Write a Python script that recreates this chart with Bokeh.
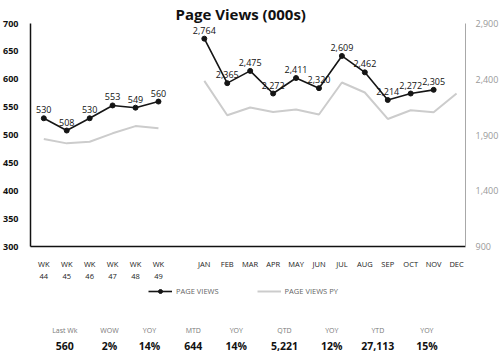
from bokeh.plotting import figure
from bokeh.layouts import column
from bokeh.models import (Range1d, LinearAxis, FixedTicker, NumeralTickFormatter,
                          Legend, LegendItem, ColumnDataSource)
from bokeh.core.properties import value
from bokeh.embed import file_html
from bokeh.resources import INLINE

# ---------------- data ----------------
weeks = ["WK\n44", "WK\n45", "WK\n46", "WK\n47", "WK\n48", "WK\n49"]
months = ["JAN", "FEB", "MAR", "APR", "MAY", "JUN", "JUL", "AUG", "SEP", "OCT", "NOV", "DEC"]
week_views = [530, 508, 530, 553, 549, 560]
week_views_py = [493, 485, 488, 503, 516, 512]
month_views = [2764, 2365, 2475, 2272, 2411, 2320, 2609, 2462, 2214, 2272, 2305]
month_views_py = [2385, 2077, 2147, 2107, 2129, 2084, 2371, 2281, 2044, 2122, 2104, 2272]
left_ticks = [300, 350, 400, 450, 500, 550, 600, 650, 700]
right_ticks = [900, 1400, 1900, 2400, 2900]
kpi_labels = ["Last Wk", "WOW", "YOY", "MTD", "YOY", "QTD", "YOY", "YTD", "YOY"]
kpi_values = ["560", "2%", "14%", "644", "14%", "5,221", "12%", "27,113", "15%"]

FONT = "Open Sans"
BLACK = "#151515"
GREY = "#cccccc"

# x positions: weeks, one empty slot, then months
wx = list(range(len(weeks)))
mx = [len(weeks) + 1 + i for i in range(len(months))]

p = figure(width=501, height=286, output_backend="svg", toolbar_location=None,
           x_range=Range1d(-0.58, mx[-1] + 0.39), y_range=Range1d(300, 700),
           title="Page Views (000s)")
p.extra_y_ranges = {"right": Range1d(900, 2900)}
p.min_border_left = 29
p.min_border_right = 35
p.min_border_top = 23
p.min_border_bottom = 40
p.outline_line_color = None
p.grid.visible = False

p.title.align = "left"
p.title.offset = 145
p.title.text_font = FONT
p.title.text_font_size = "15px"
p.title.text_font_style = "bold"
p.title.text_color = "#111111"
p.title.standoff = 0

# x axis
xa = p.xaxis[0]
xa.ticker = FixedTicker(ticks=wx + mx)
overrides = {}
for i, w in zip(wx, weeks):
    overrides[i] = w
for i, m in zip(mx, months):
    overrides[i] = m
xa.major_label_overrides = overrides
xa.major_tick_line_color = None
xa.minor_tick_line_color = None
xa.axis_line_color = "#111111"
xa.axis_line_width = 1.5
xa.major_label_text_font = FONT
xa.major_label_text_font_size = "7.5px"
xa.major_label_text_color = "#222222"
xa.major_label_standoff = 6

# left axis
ya = p.yaxis[0]
ya.ticker = FixedTicker(ticks=left_ticks)
ya.major_tick_line_color = None
ya.minor_tick_line_color = None
ya.axis_line_color = "#111111"
ya.axis_line_width = 1.5
ya.major_label_text_font = FONT
ya.major_label_text_font_style = "bold"
ya.major_label_text_font_size = "9px"
ya.major_label_text_color = "#111111"
ya.major_label_standoff = 6

# right axis
ra = LinearAxis(y_range_name="right", ticker=FixedTicker(ticks=right_ticks),
                formatter=NumeralTickFormatter(format="0,0"))
ra.major_tick_line_color = None
ra.minor_tick_line_color = None
ra.axis_line_color = "#a8a8a8"
ra.axis_line_width = 1
ra.major_label_text_font = FONT
ra.major_label_text_font_size = "9px"
ra.major_label_text_color = "#999999"
ra.major_label_standoff = 4
p.add_layout(ra, "right")

# prior-year lines
p.line(wx, week_views_py, line_color=GREY, line_width=2)
p.line(mx, month_views_py, line_color=GREY, line_width=2, y_range_name="right")

# current lines
p.line(wx, week_views, line_color=BLACK, line_width=1.6)
p.scatter(wx, week_views, size=5, fill_color=BLACK, line_color=BLACK)
p.line(mx[:len(month_views)], month_views, line_color=BLACK, line_width=1.6,
       y_range_name="right")
p.scatter(mx[:len(month_views)], month_views, size=5, fill_color=BLACK,
          line_color=BLACK, y_range_name="right")

# data labels
wsrc = ColumnDataSource(dict(x=wx, y=week_views, t=[str(v) for v in week_views]))
p.text(x="x", y="y", text="t", source=wsrc, text_align="center", text_baseline="bottom",
       y_offset=-5, text_font=value(FONT), text_font_size="9px", text_color="#111111")
msrc = ColumnDataSource(dict(x=mx[:len(month_views)], y=month_views,
                             t=[f"{v:,}" for v in month_views]))
p.text(x="x", y="y", text="t", source=msrc, text_align="center", text_baseline="bottom",
       y_offset=-5, text_font=value(FONT), text_font_size="9px", text_color="#111111",
       y_range_name="right")

# ---------------- legend + KPI strip ----------------
kpi_x = [39.5, 91, 137, 187.5, 237, 292.5, 347, 400, 456.5]
k = figure(width=501, height=66, output_backend="svg", toolbar_location=None,
           x_range=Range1d(0, 501), y_range=Range1d(0, 66), min_border=0)
k.axis.visible = False
k.grid.visible = False
k.outline_line_color = None

# legend glyph renderers (kept off-screen, only their legend swatches show)
lg_src = ColumnDataSource(dict(x=[-100, -90], y=[-100, -100]))
lb = k.line("x", "y", source=lg_src, line_color=BLACK, line_width=1.6)
lbc = k.scatter("x", "y", source=lg_src, size=5, fill_color=BLACK, line_color=BLACK)
lgrey = k.line("x", "y", source=lg_src, line_color=GREY, line_width=2)
legend = Legend(items=[LegendItem(label="PAGE VIEWS", renderers=[lb, lbc]),
                       LegendItem(label="PAGE VIEWS PY", renderers=[lgrey])],
                orientation="horizontal", location=(118, 56))
legend.border_line_color = None
legend.background_fill_alpha = 0
legend.label_text_font = FONT
legend.label_text_font_size = "7.5px"
legend.label_text_color = "#666666"
legend.glyph_width = 24
legend.glyph_height = 10
legend.label_standoff = 4
legend.spacing = 38
legend.padding = 2
legend.margin = 0
k.add_layout(legend)

k.text(x=kpi_x, y=[22] * len(kpi_x), text=kpi_labels, text_align="center",
       text_baseline="middle", text_font=value(FONT), text_font_size="7px",
       text_color="#777777")
k.text(x=kpi_x, y=[6.5] * len(kpi_x), text=kpi_values, text_align="center",
       text_baseline="middle", text_font=value(FONT), text_font_size="10.5px",
       text_font_style="bold", text_color="#111111")

layout = column(p, k, spacing=0)
open("out.html", "w").write(file_html(layout, INLINE))
